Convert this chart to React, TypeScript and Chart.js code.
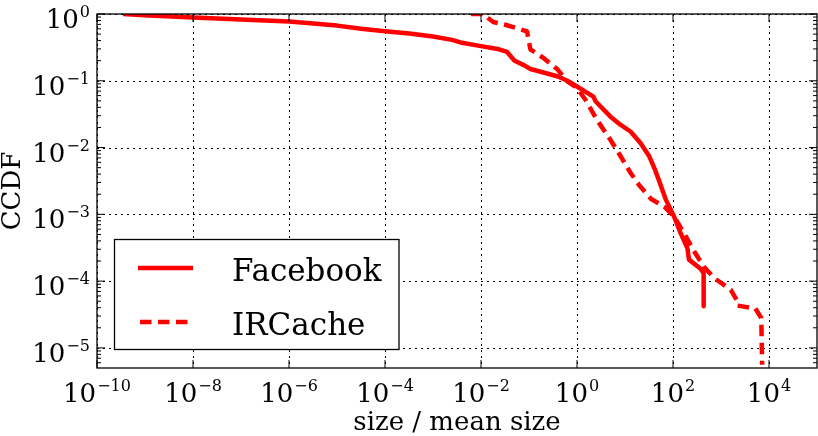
import { useEffect, useRef } from "react";
import { Chart, registerables } from "chart.js";

Chart.register(...registerables);

// ---- data ----
const facebookSize = [
  3.5e-10, 1e-9, 1e-8, 1e-7, 3.2e-7, 1e-6, 3.2e-6, 1e-5, 3.2e-5, 1e-4, 3.2e-4, 1e-3,
  2.5e-3, 4e-3, 1e-2, 2.2e-2, 3.5e-2, 5e-2, 8e-2, 0.107, 0.2, 0.4, 0.63, 1, 2.2, 2.45,
  5, 8, 13, 21, 32, 42, 52, 71, 105, 145, 200, 215, 370, 435, 435,
];
const facebookCcdf = [
  1, 0.955, 0.89, 0.83, 0.8, 0.77, 0.72, 0.67, 0.6, 0.55, 0.51, 0.46,
  0.41, 0.37, 0.33, 0.3, 0.27, 0.2, 0.17, 0.15, 0.133, 0.116, 0.1, 0.082, 0.058, 0.049,
  0.029, 0.022, 0.0174, 0.0117, 0.0074, 0.0047, 0.0031, 0.00166, 0.00093, 0.00052,
  0.00031, 0.00021, 0.000155, 0.000132, 0.000042,
];
const ircacheSize = [
  6.2e-3, 1.1e-2, 1.4e-2, 1.8e-2, 3.2e-2, 9.1e-2, 0.107, 0.2, 0.4, 0.63, 1, 1.5, 2.6,
  5, 8.1, 13, 20, 35, 66, 105, 170, 275, 435, 710, 1600, 2200, 2200, 5200, 6900, 7200,
];
const ircacheCcdf = [
  1, 1, 0.87, 0.76, 0.69, 0.55, 0.295, 0.22, 0.146, 0.098, 0.078, 0.052, 0.026,
  0.013, 0.0074, 0.0042, 0.0027, 0.0017, 0.0013, 0.00093, 0.00052, 0.00028, 0.000166,
  0.000112, 0.000074, 0.00005, 0.000043, 0.000039, 0.000028, 0.0000056,
];
const seriesNames = ["Facebook", "IRCache"];
const xTickExponents = [-10, -8, -6, -4, -2, 0, 2, 4];
const yTickExponents = [0, -1, -2, -3, -4, -5];
const xLabel = "size / mean size";
const yLabel = "CCDF";
const xRange = [1e-10, 1e5];
const yRange = [5e-6, 1];

const FONT = '"DejaVu Serif", "Liberation Serif", serif';
const RED = "#ff0000";

function drawPow(
  ctx: CanvasRenderingContext2D,
  exp: number,
  x: number,
  baseline: number,
  align: "center" | "right"
) {
  const base = "10";
  const sup = exp < 0 ? "\u2212" + Math.abs(exp) : String(exp);
  ctx.font = `26px ${FONT}`;
  const wb = ctx.measureText(base).width;
  ctx.font = `16px ${FONT}`;
  const ws = ctx.measureText(sup).width;
  const total = wb + 1 + ws;
  const left = align === "center" ? x - total / 2 : x - total;
  ctx.textAlign = "left";
  ctx.textBaseline = "alphabetic";
  ctx.font = `26px ${FONT}`;
  ctx.fillText(base, left, baseline);
  ctx.font = `16px ${FONT}`;
  ctx.fillText(sup, left + wb + 1, baseline - 11);
}

const axesPlugin = {
  id: "mplAxes",
  beforeDatasetsDraw(chart: any) {
    const { ctx, chartArea: a, scales } = chart;
    const xs = scales.x;
    const ys = scales.y;
    ctx.save();
    ctx.strokeStyle = "#000";
    ctx.lineWidth = 1;
    ctx.setLineDash([2, 4]);
    for (const e of xTickExponents) {
      const px = Math.round(xs.getPixelForValue(Math.pow(10, e))) + 0.5;
      ctx.beginPath();
      ctx.moveTo(px, a.top);
      ctx.lineTo(px, a.bottom);
      ctx.stroke();
    }
    for (const e of yTickExponents) {
      const py = Math.round(ys.getPixelForValue(Math.pow(10, e))) + 0.5;
      ctx.beginPath();
      ctx.moveTo(a.left, py);
      ctx.lineTo(a.right, py);
      ctx.stroke();
    }
    ctx.restore();
  },
  afterDatasetsDraw(chart: any) {
    const { ctx, chartArea: a, scales } = chart;
    const xs = scales.x;
    const ys = scales.y;
    ctx.save();
    ctx.setLineDash([]);
    ctx.strokeStyle = "#000";
    ctx.lineWidth = 1.3;
    ctx.strokeRect(a.left, a.top, a.right - a.left, a.bottom - a.top);

    // tick marks (inward)
    ctx.lineWidth = 1;
    for (const e of xTickExponents) {
      const px = xs.getPixelForValue(Math.pow(10, e));
      ctx.beginPath();
      ctx.moveTo(px, a.bottom);
      ctx.lineTo(px, a.bottom - 8);
      ctx.moveTo(px, a.top);
      ctx.lineTo(px, a.top + 8);
      ctx.stroke();
    }
    for (let d = -6; d <= 0; d++) {
      for (let m = 1; m <= 9; m++) {
        const v = m * Math.pow(10, d);
        if (v < yRange[0] || v > yRange[1]) continue;
        const py = ys.getPixelForValue(v);
        const len = m === 1 ? 8 : 4;
        ctx.beginPath();
        ctx.moveTo(a.left, py);
        ctx.lineTo(a.left + len, py);
        ctx.moveTo(a.right, py);
        ctx.lineTo(a.right - len, py);
        ctx.stroke();
      }
    }

    // tick labels
    ctx.fillStyle = "#000";
    for (const e of xTickExponents) {
      const px = xs.getPixelForValue(Math.pow(10, e));
      drawPow(ctx, e, px, a.bottom + 34, "center");
    }
    for (const e of yTickExponents) {
      const py = ys.getPixelForValue(Math.pow(10, e));
      drawPow(ctx, e, a.left - 7, py + 14, "right");
    }

    // axis titles
    ctx.font = `26px ${FONT}`;
    ctx.textAlign = "center";
    ctx.textBaseline = "alphabetic";
    ctx.fillText(xLabel, (a.left + a.right) / 2, a.bottom + 62);
    ctx.save();
    ctx.translate(20, (a.top + a.bottom) / 2);
    ctx.rotate(-Math.PI / 2);
    ctx.fillText(yLabel, 0, 0);
    ctx.restore();

    // legend
    const lx = 114.5, ly = 239.5, lw = 284.5, lh = 110;
    ctx.fillStyle = "#fff";
    ctx.fillRect(lx, ly, lw, lh);
    ctx.strokeStyle = "#000";
    ctx.lineWidth = 1.3;
    ctx.strokeRect(lx, ly, lw, lh);
    const rows = [268, 322];
    const baselines = [281, 335];
    chart.data.datasets.forEach((ds: any, i: number) => {
      ctx.strokeStyle = ds.borderColor;
      ctx.lineWidth = ds.borderWidth;
      ctx.setLineDash(ds.borderDash || []);
      ctx.lineCap = "butt";
      ctx.beginPath();
      ctx.moveTo(i === 0 ? 138 : 140, rows[i]);
      ctx.lineTo(i === 0 ? 193 : 188, rows[i]);
      ctx.stroke();
      ctx.setLineDash([]);
      ctx.fillStyle = "#000";
      ctx.font = `31px ${FONT}`;
      ctx.textAlign = "left";
      ctx.fillText(ds.label, 232, baselines[i]);
    });
    ctx.restore();
  },
};

export default function App() {
  const canvasRef = useRef<HTMLCanvasElement | null>(null);

  useEffect(() => {
    document.body.style.margin = "0";
    const canvas = canvasRef.current;
    if (!canvas) return;
    const chart = new Chart(canvas, {
      type: "scatter",
      data: {
        datasets: [
          {
            label: seriesNames[0],
            data: facebookSize.map((x, i) => ({ x, y: facebookCcdf[i] })),
            showLine: true,
            borderColor: RED,
            backgroundColor: RED,
            borderWidth: 4.5,
            pointRadius: 0,
            borderJoinStyle: "round",
            borderCapStyle: "butt",
            clip: 0,
          } as any,
          {
            label: seriesNames[1],
            data: ircacheSize.map((x, i) => ({ x, y: ircacheCcdf[i] })),
            showLine: true,
            borderColor: RED,
            backgroundColor: RED,
            borderWidth: 4.5,
            borderDash: [11.5, 6.5],
            pointRadius: 0,
            borderJoinStyle: "round",
            borderCapStyle: "butt",
            clip: 0,
          } as any,
        ],
      },
      options: {
        animation: false,
        responsive: false,
        devicePixelRatio: 1,
        layout: { padding: { left: 97, right: 1, top: 14, bottom: 68 } },
        scales: {
          x: { type: "logarithmic", min: xRange[0], max: xRange[1], display: false },
          y: { type: "logarithmic", min: yRange[0], max: yRange[1], display: false },
        },
        plugins: { legend: { display: false }, tooltip: { enabled: false } },
      },
      plugins: [axesPlugin],
    });
    return () => chart.destroy();
  }, []);

  return (
    <div style={{ width: 818, height: 436, background: "#fff" }}>
      <canvas ref={canvasRef} width={818} height={436} style={{ display: "block" }} />
    </div>
  );
}
